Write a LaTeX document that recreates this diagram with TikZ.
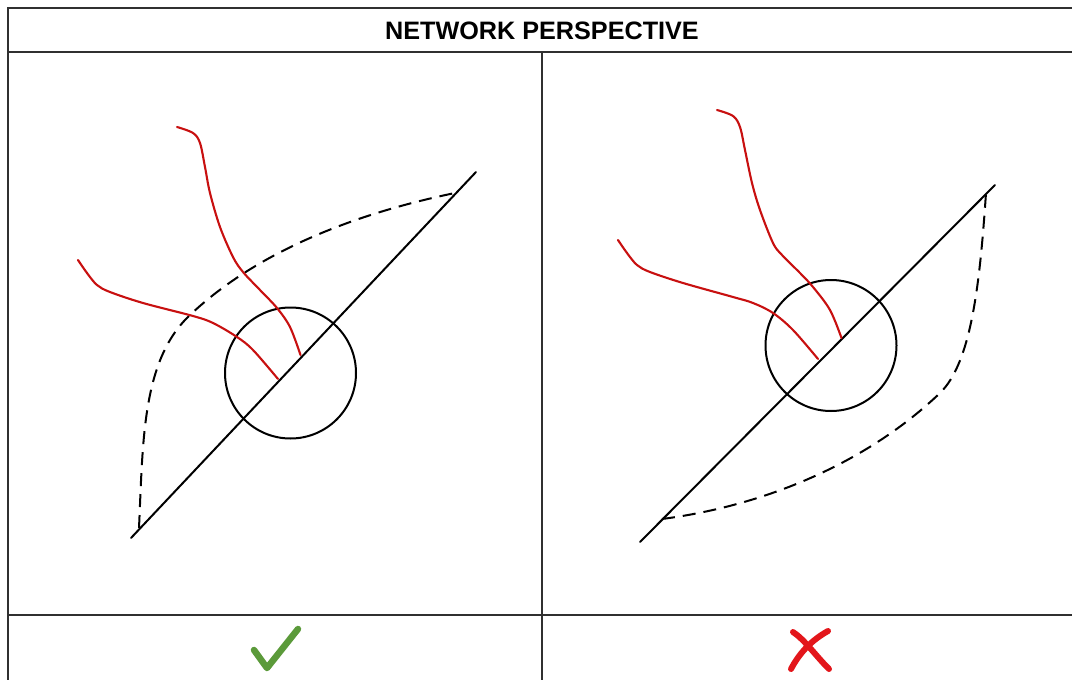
\documentclass[tikz,border=0pt]{standalone}
\usepackage{fontspec}
\setmainfont{Liberation Sans}
\definecolor{tblline}{HTML}{303030}
\definecolor{redline}{HTML}{C81010}
\definecolor{okgreen}{HTML}{5B9A3A}
\definecolor{xred}{HTML}{E3161B}
\tikzset{
  tbl/.style={draw=tblline, line width=1.8pt},
  axis/.style={draw=black, line width=2pt, line cap=round},
  ring/.style={draw=black, line width=2pt},
  redpath/.style={draw=redline, line width=2.1pt, line cap=round},
  dashpath/.style={draw=black, line width=2pt, dash pattern=on 13pt off 8pt},
  mark ok/.style={draw=okgreen, line width=6.5pt, line cap=round, line join=round},
  mark bad/.style={draw=xred, line width=6pt, line cap=round},
}
\begin{document}
\begin{tikzpicture}[x=1pt,y=-1pt]
\useasboundingbox (0,0) rectangle (1072,680);
\fill[white] (0,0) rectangle (1072,680);
\begin{scope}
\clip (0,0) rectangle (1072,680);
% table
\draw[tbl] (1080,8) -- (8,8) -- (8,690);
\draw[tbl] (8,52) -- (1080,52);
\draw[tbl] (8,615) -- (1080,615);
\draw[tbl] (542,52) -- (542,690);
\end{scope}
\node (title) at (542,31) {\fontsize{25.2}{27}\selectfont\bfseries NETWORK PERSPECTIVE};

% ---------- left panel ----------
\coordinate (la) at (131,538);
\coordinate (lb) at (476,172);
\draw[axis] (la) -- (lb);
\node[ring, circle, minimum size=131pt, inner sep=0pt] (lc) at (290.5,373) {};
\coordinate (ld1) at (139,528);
\coordinate (ld2) at (190,315);
\coordinate (ld3) at (455,193);
\draw[dashpath] (ld1) .. controls (143,440) and (142,360) .. (ld2)
                      .. controls (225,282) and (300,225) .. (ld3);
\draw[redpath] plot[smooth, tension=0.55] coordinates {(177,127) (193,133) (200,143) (205,167) (210,193) (220,227) (233,257) (243,272) (260,290) (277,308) (290,327) (300.5,355)};
\draw[redpath] plot[smooth, tension=0.55] coordinates {(78,260) (87,273) (97,285) (110,292) (143,303) (193,316) (213,323) (237,337) (253,350) (278,379)};

% ---------- right panel ----------
\coordinate (ra) at (640,542);
\coordinate (rb) at (995,185);
\draw[axis] (ra) -- (rb);
\node[ring, circle, minimum size=131pt, inner sep=0pt] (rc) at (831,345.5) {};
\coordinate (rd1) at (662,519);
\coordinate (rd2) at (940,393);
\coordinate (rd3) at (986,193);
\draw[dashpath] (rd1) .. controls (770,505) and (870,460) .. (rd2)
                      .. controls (972,362) and (980,280) .. (rd3);
\draw[redpath] plot[smooth, tension=0.55] coordinates {(717,110) (733,116) (740,127) (745,150) (752,183) (760,210) (773,243) (782,255) (800,273) (813,287) (830,310) (841.5,338)};
\draw[redpath] plot[smooth, tension=0.55] coordinates {(618,240) (627,253) (637,265) (650,272) (683,283) (733,297) (753,303) (773,313) (793,330) (818,359)};

% ---------- marks ----------
\coordinate (ok1) at (254,650);
\coordinate (ok2) at (267,668);
\coordinate (ok3) at (298,629);
\draw[mark ok] (ok1) -- (ok2) -- (ok3);
\coordinate (x1) at (793,632);
\coordinate (x2) at (829,669);
\coordinate (x3) at (828,631);
\coordinate (x4) at (791,669);
\draw[mark bad] (x1) .. controls (805,640) and (815,655) .. (x2);
\draw[mark bad] (x3) .. controls (812,640) and (800,652) .. (x4);
\end{tikzpicture}
\end{document}
